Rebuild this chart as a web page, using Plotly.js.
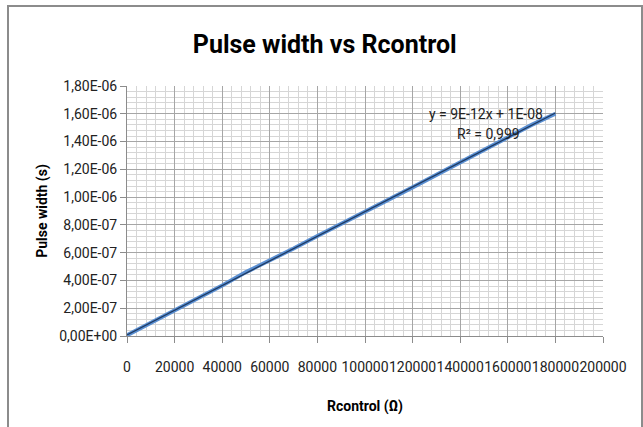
<!DOCTYPE html>
<html>
<head>
<meta charset="utf-8">
<script src="https://cdn.plot.ly/plotly-3.0.1.min.js"></script>
<style>
  html, body { margin: 0; padding: 0; background: #fff; }
  #wrap { position: relative; width: 643px; height: 427px; overflow: hidden; }
  #chart { position: absolute; left: 0; top: 0; width: 643px; height: 427px; }
  #frame { position: absolute; left: 7px; top: 5px; width: 632px; height: 440px;
           border: 2px solid #8c8c8c; pointer-events: none; }
</style>
</head>
<body>
<div id="wrap">
  <div id="chart"></div>
  <div id="frame"></div>
</div>
<script>
// Data
const rcontrol = [0, 10000, 20000, 30000, 40000, 50000, 60000, 70000, 80000, 90000,
                  100000, 110000, 120000, 130000, 140000, 150000, 160000, 170000, 180000];
const pulseWidth = [5e-9, 9.4e-8, 1.84e-7, 2.74e-7, 3.64e-7, 4.6e-7, 5.42e-7, 6.3e-7, 7.2e-7, 8.06e-7,
                    8.96e-7, 9.84e-7, 1.07e-6, 1.16e-6, 1.25e-6, 1.34e-6, 1.43e-6, 1.52e-6, 1.60e-6];

const xTickVals = [0, 20000, 40000, 60000, 80000, 100000, 120000, 140000, 160000, 180000, 200000];
const xTickText = ["0", "20000", "40000", "60000", "80000", "100000", "120000", "140000", "160000", "180000", "200000"];
const yTickVals = [0, 2e-7, 4e-7, 6e-7, 8e-7, 1e-6, 1.2e-6, 1.4e-6, 1.6e-6, 1.8e-6];
const yTickText = ["0,00E+00", "2,00E-07", "4,00E-07", "6,00E-07", "8,00E-07", "1,00E-06", "1,20E-06", "1,40E-06", "1,60E-06", "1,80E-06"];

const chartTitle = "Pulse width vs Rcontrol";
const xTitle = "Rcontrol (Ω)";
const yTitle = "Pulse width (s)";
const equationText = "y = 9E-12x + 1E-08";
const r2Text = "R² = 0,999";

// Linear least-squares trendline fitted to the data
const n = rcontrol.length;
const mx = rcontrol.reduce((a, b) => a + b, 0) / n;
const my = pulseWidth.reduce((a, b) => a + b, 0) / n;
let sxy = 0, sxx = 0;
for (let i = 0; i < n; i++) { sxy += (rcontrol[i] - mx) * (pulseWidth[i] - my); sxx += (rcontrol[i] - mx) ** 2; }
const slope = sxy / sxx, intercept = my - slope * mx;
const trendX = [rcontrol[0], rcontrol[n - 1]];
const trendY = trendX.map(x => slope * x + intercept);

const FONT = "Roboto, Liberation Sans, sans-serif";

const traces = [
  { x: rcontrol, y: pulseWidth, type: "scatter", mode: "lines",
    line: { color: "#5a8fd2", width: 4 }, hoverinfo: "skip" },
  { x: trendX, y: trendY, type: "scatter", mode: "lines",
    line: { color: "#1f3b63", width: 1.3 }, hoverinfo: "skip" }
];

const layout = {
  width: 643, height: 427,
  margin: { l: 127, r: 40, t: 86, b: 91 },
  paper_bgcolor: "#ffffff", plot_bgcolor: "#ffffff",
  showlegend: false,
  font: { family: FONT, size: 14, color: "#222" },
  title: { text: chartTitle, x: 0.505, xref: "container", y: 0.897, yref: "container",
           xanchor: "center", yanchor: "middle",
           font: { family: FONT, size: 25, color: "#000", weight: "bold" } },
  xaxis: {
    range: [0, 200000], tickmode: "array", tickvals: xTickVals, ticktext: xTickText, tickangle: 0,
    showgrid: true, gridcolor: "#a6a6a6", gridwidth: 1,
    minor: { dtick: 4000, showgrid: true, gridcolor: "#d6d6d6", gridwidth: 1, ticks: "" },
    showline: true, linecolor: "#8c8c8c", linewidth: 1,
    ticks: "outside", ticklen: 6, tickcolor: "#8c8c8c", ticklabelstandoff: 12,
    zeroline: false, tickfont: { family: FONT, size: 14, color: "#222" },
    title: { text: xTitle, standoff: 27, font: { family: FONT, size: 14, color: "#000", weight: "bold" } }
  },
  yaxis: {
    range: [0, 1.8e-6], tickmode: "array", tickvals: yTickVals, ticktext: yTickText,
    showgrid: true, gridcolor: "#a6a6a6", gridwidth: 1,
    minor: { dtick: 4e-8, showgrid: true, gridcolor: "#d6d6d6", gridwidth: 1, ticks: "" },
    showline: true, linecolor: "#8c8c8c", linewidth: 1,
    ticks: "outside", ticklen: 6, tickcolor: "#8c8c8c",
    zeroline: false, tickfont: { family: FONT, size: 14, color: "#222" },
    title: { text: yTitle, standoff: 8, font: { family: FONT, size: 14, color: "#000", weight: "bold" } }
  },
  annotations: [
    { x: 0.755, y: 0.89, xref: "paper", yref: "paper", text: equationText, showarrow: false,
      font: { family: FONT, size: 14, color: "#222" }, xanchor: "center", yanchor: "middle" },
    { x: 0.76, y: 0.81, xref: "paper", yref: "paper", text: r2Text, showarrow: false,
      font: { family: FONT, size: 14, color: "#222" }, xanchor: "center", yanchor: "middle" }
  ]
};

Plotly.newPlot("chart", traces, layout, { staticPlot: true, displayModeBar: false });
</script>
</body>
</html>
